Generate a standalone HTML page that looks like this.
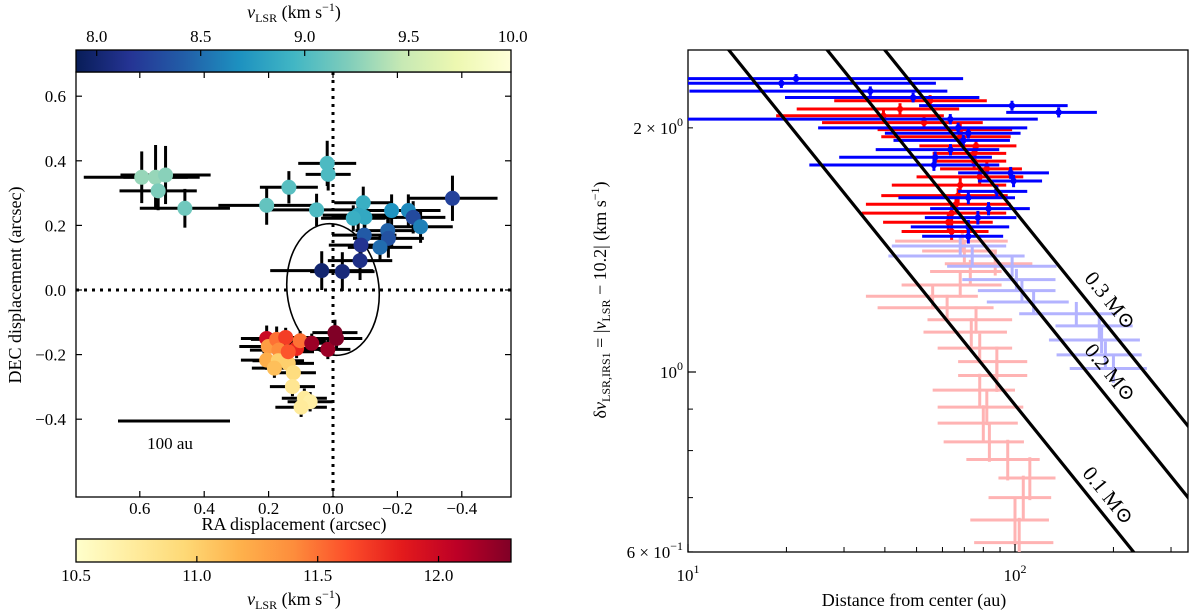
<!DOCTYPE html>
<html><head><meta charset="utf-8"><style>
html,body{margin:0;padding:0;background:#fff;overflow:hidden;}
svg{display:block;font-family:"Liberation Serif","DejaVu Serif",serif;}
</style></head><body>
<svg id="fig" width="1200" height="616" viewBox="0 0 1200 616" xmlns="http://www.w3.org/2000/svg">
<defs>
<linearGradient id="gBlue" x1="0" x2="1" y1="0" y2="0">
<stop offset="0" stop-color="#081d58"/><stop offset="0.125" stop-color="#253494"/><stop offset="0.25" stop-color="#225ea8"/><stop offset="0.375" stop-color="#1d91c0"/><stop offset="0.5" stop-color="#41b6c4"/><stop offset="0.625" stop-color="#7fcdbb"/><stop offset="0.75" stop-color="#c7e9b4"/><stop offset="0.875" stop-color="#edf8b1"/><stop offset="1" stop-color="#ffffd9"/>
</linearGradient>
<linearGradient id="gRed" x1="0" x2="1" y1="0" y2="0">
<stop offset="0" stop-color="#ffffcc"/><stop offset="0.125" stop-color="#ffeda0"/><stop offset="0.25" stop-color="#fed976"/><stop offset="0.375" stop-color="#feb24c"/><stop offset="0.5" stop-color="#fd8d3c"/><stop offset="0.625" stop-color="#fc4e2a"/><stop offset="0.75" stop-color="#e31a1c"/><stop offset="0.875" stop-color="#bd0026"/><stop offset="1" stop-color="#800026"/>
</linearGradient>
<clipPath id="clipL"><rect x="76" y="72" width="435" height="425"/></clipPath>
<clipPath id="clipR"><rect x="688" y="50" width="500" height="502"/></clipPath>
</defs>
<g id="left"></g>
<g id="right"></g>
</svg>
<script>
// ---------- LEFT PANEL DATA ----------
const blueRA  = [0.594,0.551,0.520,0.543,0.460,0.206,0.137,0.018,0.015,0.051,-0.094,-0.078,-0.099,-0.063,-0.182,-0.234,-0.249,-0.272,-0.371,-0.097,-0.087,-0.170,-0.172,-0.146,-0.084,0.035,-0.029];
const blueDEC = [0.349,0.349,0.356,0.307,0.253,0.262,0.318,0.392,0.358,0.248,0.270,0.232,0.225,0.222,0.246,0.246,0.225,0.196,0.284,0.170,0.139,0.184,0.160,0.132,0.091,0.060,0.057];
const blueV   = [9.3,9.3,9.25,9.2,9.15,9.1,9.05,9.0,9.0,9.0,8.9,8.85,8.85,8.9,8.7,8.65,8.3,8.6,8.25,8.4,8.15,8.45,8.35,8.5,8.1,8.0,8.05];
const blueXerr= [0.18,0.1,0.14,0.12,0.14,0.15,0.09,0.09,0.07,0.16,0.09,0.11,0.1,0.1,0.1,0.1,0.1,0.1,0.14,0.1,0.1,0.1,0.11,0.1,0.1,0.16,0.1];
const blueYerr= [0.08,0.1,0.09,0.06,0.06,0.06,0.05,0.07,0.05,0.05,0.05,0.05,0.05,0.04,0.05,0.05,0.05,0.05,0.07,0.05,0.05,0.05,0.06,0.04,0.06,0.06,0.06];
const redRA   = [0.206,0.201,0.175,0.147,0.168,0.113,0.102,0.066,0.016,-0.006,-0.011,0.206,0.170,0.139,0.182,0.123,0.126,0.089,0.071,0.099,0.139];
const redDEC  = [-0.150,-0.175,-0.153,-0.147,-0.186,-0.181,-0.157,-0.165,-0.184,-0.132,-0.150,-0.217,-0.219,-0.227,-0.242,-0.256,-0.299,-0.335,-0.346,-0.363,-0.191];
const redV    = [12.0,11.3,11.5,11.7,11.4,11.8,11.5,12.2,12.2,12.3,12.3,11.2,11.0,11.0,11.1,10.9,10.8,10.75,10.7,10.75,11.6];
const redXerr = [0.08,0.09,0.08,0.08,0.09,0.08,0.08,0.09,0.07,0.07,0.08,0.08,0.08,0.08,0.07,0.07,0.07,0.07,0.07,0.08,0.08];
const redYerr = [0.04,0.03,0.04,0.03,0.03,0.03,0.03,0.03,0.03,0.04,0.03,0.03,0.03,0.03,0.03,0.03,0.03,0.03,0.03,0.03,0.03];
const lxTicks = [0.6,0.4,0.2,0.0,-0.2,-0.4];
const lyTicks = [0.6,0.4,0.2,0.0,-0.2,-0.4];
const cbBlueTicks = [8.0,8.5,9.0,9.5,10.0];
const cbRedTicks = [10.5,11.0,11.5,12.0];

// ---------- RIGHT PANEL DATA ----------
const bR  = [21.4,19.3,36.1,48.8,97.9,136,63.4,67,72,69.5,63.5,57,56.5,97,99,88,72,83,77,72,72];
const bRe = [48,38,26,29,47,42,54,42,32,27,26,28,33,30,22,21,28,28,24,24,20];
const bV  = [2.30,2.27,2.22,2.18,2.13,2.09,2.05,2.00,1.97,1.93,1.88,1.84,1.80,1.76,1.72,1.67,1.64,1.59,1.55,1.51,1.47];
const rR  = [55,44.5,39.6,52.7,68,68,76,75,75,82,78,68,67,66,64,62.5,64];
const rRe = [27,23,21,27,30,29,25,19,19,23,28,26,28,31,30,23,19];
const rV  = [2.16,2.11,2.07,2.03,1.99,1.95,1.90,1.86,1.82,1.78,1.74,1.70,1.65,1.61,1.57,1.53,1.49];
const lbR  = [68,74,98,101,105,114,154,181,184,189,200];
const lbRe = [26,33,36,32,28,32,51,48,57,55,53];
const lbV  = [1.43,1.39,1.35,1.30,1.26,1.22,1.18,1.14,1.095,1.05,1.01];
const lrR  = [69,70,87,73,68,56,62,76,73.5,78,88,88,78,82,80,83.5,95,111,106,100,103];
const lrRe = [26,18,26,18,23,21,24,22,21,20,21,21,22,24,22,23,24,22,23,27,28];
const lrV  = [1.45,1.41,1.36,1.33,1.28,1.24,1.20,1.16,1.12,1.07,1.03,0.99,0.95,0.905,0.865,0.82,0.78,0.74,0.70,0.657,0.616];
const masses = [0.1,0.2,0.3];
const massLabels = ["0.1","0.2","0.3"];
const ryMinor = [0.6,0.7,0.8,0.9,2];
const rxMinor = [20,30,40,50,60,70,80,90,200,300];

const NS="http://www.w3.org/2000/svg";
function mk(tag, attrs, parent, text){const e=document.createElementNS(NS,tag);for(const k in attrs)e.setAttribute(k,attrs[k]);if(text!==undefined)e.textContent=text;parent.appendChild(e);return e;}
function hex2rgb(h){return [parseInt(h.slice(1,3),16),parseInt(h.slice(3,5),16),parseInt(h.slice(5,7),16)];}
function cmap(stops,t){t=Math.max(0,Math.min(1,t));const n=stops.length-1;const i=Math.min(n-1,Math.floor(t*n));const f=t*n-i;const a=hex2rgb(stops[i]),b=hex2rgb(stops[i+1]);return 'rgb('+a.map((v,k)=>Math.round(v+(b[k]-v)*f)).join(',')+')';}
const ygb=["#081d58","#253494","#225ea8","#1d91c0","#41b6c4","#7fcdbb","#c7e9b4","#edf8b1","#ffffd9"];
const ylr=["#ffffcc","#ffeda0","#fed976","#feb24c","#fd8d3c","#fc4e2a","#e31a1c","#bd0026","#800026"];

// ===== LEFT =====
const L=document.getElementById('left');
const lx=v=>333-322*v, ly=v=>290-323*v;
const cbx1=v=>96.7+(v-8.0)*208, cbx2=v=>76+(v-10.5)*241.7;
const frame=mk('rect',{x:76,y:72,width:435,height:425,fill:'none',stroke:'#000','stroke-width':1.3},L);

const cl=mk('g',{'clip-path':'url(#clipL)'},L);
let e=mk('line',{x1:lx(0),x2:lx(0),y1:72,y2:497,stroke:'#000','stroke-width':3,'stroke-dasharray':'3,5'},cl);

e=mk('line',{x1:76,x2:511,y1:ly(0),y2:ly(0),stroke:'#000','stroke-width':3,'stroke-dasharray':'3,5'},cl);

e=mk('ellipse',{cx:333,cy:289.5,rx:46,ry:66,fill:'none',stroke:'#000','stroke-width':1.6,transform:'rotate(-6 333 289.5)'},cl);

function leftGroup(RA,DEC,XE,YE,name){
  const g=mk('g',{},cl);
  for(let i=0;i<RA.length;i++){
    const b=mk('line',{x1:lx(RA[i]+XE[i]),x2:lx(RA[i]-XE[i]),y1:ly(DEC[i]),y2:ly(DEC[i]),stroke:'#000','stroke-width':3},g);
    
    const c=mk('line',{x1:lx(RA[i]),x2:lx(RA[i]),y1:ly(DEC[i]+YE[i]),y2:ly(DEC[i]-YE[i]),stroke:'#000','stroke-width':3},g);
    
  }
}
leftGroup(blueRA,blueDEC,blueXerr,blueYerr,'blue');
leftGroup(redRA,redDEC,redXerr,redYerr,'red');
for(let i=0;i<blueRA.length;i++){const p=mk('circle',{cx:lx(blueRA[i]),cy:ly(blueDEC[i]),r:7.5,fill:cmap(ygb,(blueV[i]-7.9)/2.1)},cl);
}
for(let i=0;i<redRA.length;i++){const p=mk('circle',{cx:lx(redRA[i]),cy:ly(redDEC[i]),r:7.5,fill:cmap(ylr,(redV[i]-10.5)/1.8)},cl);
}
lxTicks.forEach(v=>{const x=lx(v);mk('line',{x1:x,x2:x,y1:497,y2:491,stroke:'#000','stroke-width':1.2},L);mk('line',{x1:x,x2:x,y1:72,y2:78,stroke:'#000','stroke-width':1.2},L);
const t=mk('text',{x:x,y:514,'font-size':17,'text-anchor':'middle'},L,(v<0?'\u2212':'')+Math.abs(v).toFixed(1));});
lyTicks.forEach(v=>{const y=ly(v);mk('line',{x1:76,x2:82,y1:y,y2:y,stroke:'#000','stroke-width':1.2},L);mk('line',{x1:511,x2:505,y1:y,y2:y,stroke:'#000','stroke-width':1.2},L);
const t=mk('text',{x:66,y:y+6,'font-size':17,'text-anchor':'end'},L,(v<0?'\u2212':'')+Math.abs(v).toFixed(1));});
e=mk('text',{x:294,y:530,'font-size':18,'text-anchor':'middle'},L,'RA displacement (arcsec)');
e=mk('text',{x:0,y:0,'font-size':18,'text-anchor':'middle',transform:'translate(21,285) rotate(-90)'},L,'DEC displacement (arcsec)');
e=mk('line',{x1:118,x2:230,y1:421,y2:421,stroke:'#000','stroke-width':3},L);
e=mk('text',{x:170,y:449,'font-size':17,'text-anchor':'middle'},L,'100 au');
// colorbars
e=mk('rect',{x:76,y:50,width:435,height:22,fill:'url(#gBlue)',stroke:'#000','stroke-width':1.3},L);
cbBlueTicks.forEach(v=>{const x=cbx1(v);if(x<510)mk('line',{x1:x,x2:x,y1:50,y2:56,stroke:'#000','stroke-width':1.2},L);
const t=mk('text',{x:x,y:42,'font-size':17,'text-anchor':'middle'},L,v.toFixed(1));});
e=mk('text',{x:294,y:18,'font-size':18,'text-anchor':'middle'},L);
e.innerHTML='<tspan font-style="italic">v</tspan><tspan font-size="12" dy="4">LSR</tspan><tspan dy="-4"> (km s</tspan><tspan font-size="12" dy="-7">\u22121</tspan><tspan dy="7">)</tspan>';
e=mk('rect',{x:76,y:539,width:435,height:23,fill:'url(#gRed)',stroke:'#000','stroke-width':1.3},L);
cbRedTicks.forEach(v=>{const x=cbx2(v);if(x>77)mk('line',{x1:x,x2:x,y1:562,y2:556,stroke:'#000','stroke-width':1.2},L);
const t=mk('text',{x:x,y:581,'font-size':17,'text-anchor':'middle'},L,v.toFixed(1));});
e=mk('text',{x:294,y:605,'font-size':18,'text-anchor':'middle'},L);
e.innerHTML='<tspan font-style="italic">v</tspan><tspan font-size="12" dy="4">LSR</tspan><tspan dy="-4"> (km s</tspan><tspan font-size="12" dy="-7">\u22121</tspan><tspan dy="7">)</tspan>';

// ===== RIGHT =====
const R=document.getElementById('right');
const rx=r=>688+327*(Math.log10(r)-1), ry=v=>372-811*Math.log10(v);
e=mk('rect',{x:688,y:50,width:500,height:502,fill:'none',stroke:'#000','stroke-width':1.3},R);
const cr=mk('g',{'clip-path':'url(#clipR)'},R);
function rightGroup(Rs,Re,Vs,col,verr,marker,name){
  const g=mk('g',{},cr);
  for(let i=0;i<Rs.length;i++){
    const lo=Math.max(Rs[i]-Re[i],5);
    const h=mk('line',{x1:rx(lo),x2:rx(Rs[i]+Re[i]),y1:ry(Vs[i]),y2:ry(Vs[i]),stroke:col,'stroke-width':3},g);
    
    const v=mk('line',{x1:rx(Rs[i]),x2:rx(Rs[i]),y1:ry(Vs[i]+verr),y2:ry(Vs[i]-verr),stroke:col,'stroke-width':3},g);
    
    if(marker){const m=mk('circle',{cx:rx(Rs[i]),cy:ry(Vs[i]),r:3.2,fill:col},g);}
  }
}
rightGroup(lrR,lrRe,lrV,'#ffb3b3',0.045,false,'light-red');
rightGroup(lbR,lbRe,lbV,'#b3b3ff',0.04,false,'light-blue');
rightGroup(rR,rRe,rV,'#ff0000',0.035,true,'red');
rightGroup(bR,bRe,bV,'#0000ff',0.03,true,'blue');
const K=28.8;
masses.forEach((M,i)=>{
  const r1=8, r2=400;
  const l=mk('line',{x1:rx(r1),y1:ry(K*Math.sqrt(M/r1)),x2:rx(r2),y2:ry(K*Math.sqrt(M/r2)),stroke:'#000','stroke-width':3.2},cr);
  
});
const labelPos=[[1103,500],[1105,377],[1105,305]];
masses.forEach((M,i)=>{
  const t=mk('text',{x:0,y:0,'font-size':21,'text-anchor':'middle',transform:'translate('+labelPos[i][0]+','+labelPos[i][1]+') rotate(51)'},R,massLabels[i]+' M\u2299');
  
});
// ticks
[10,100].forEach((r,i)=>{const x=rx(r);mk('line',{x1:x,x2:x,y1:552,y2:544,stroke:'#000','stroke-width':1.2},R);
const t=mk('text',{x:x,y:581,'font-size':17,'text-anchor':'middle'},R);
t.innerHTML='10<tspan font-size="12" dy="-8">'+(i+1)+'</tspan>';});
rxMinor.forEach(r=>{const x=rx(r);if(x<1188)mk('line',{x1:x,x2:x,y1:552,y2:547,stroke:'#000','stroke-width':1},R);});
ryMinor.forEach(v=>{const y=ry(v);mk('line',{x1:688,x2:693,y1:y,y2:y,stroke:'#000','stroke-width':1},R);});
e=mk('line',{x1:688,x2:696,y1:ry(1),y2:ry(1),stroke:'#000','stroke-width':1.2},R);
e=mk('text',{x:683,y:ry(1)+6,'font-size':17,'text-anchor':'end'},R);
e.innerHTML='10<tspan font-size="12" dy="-8">0</tspan>';
e=mk('text',{x:683,y:ry(2)+6,'font-size':17,'text-anchor':'end'},R);
e.innerHTML='2 \u00d7 10<tspan font-size="12" dy="-8">0</tspan>';
e=mk('text',{x:683,y:ry(0.6)+6,'font-size':17,'text-anchor':'end'},R);
e.innerHTML='6 \u00d7 10<tspan font-size="12" dy="-8">\u22121</tspan>';
e=mk('text',{x:914,y:606,'font-size':18,'text-anchor':'middle'},R,'Distance from center (au)');
e=mk('text',{x:0,y:0,'font-size':18,'text-anchor':'middle',transform:'translate(606,300) rotate(-90)'},R);
e.innerHTML='\u03b4<tspan font-style="italic">v</tspan><tspan font-size="12" dy="4">LSR,IRS1</tspan><tspan dy="-4"> = |</tspan><tspan font-style="italic">v</tspan><tspan font-size="12" dy="4">LSR</tspan><tspan dy="-4"> \u2212 10.2| (km s</tspan><tspan font-size="12" dy="-7">\u22121</tspan><tspan dy="7">)</tspan>';
</script>
</body></html>
